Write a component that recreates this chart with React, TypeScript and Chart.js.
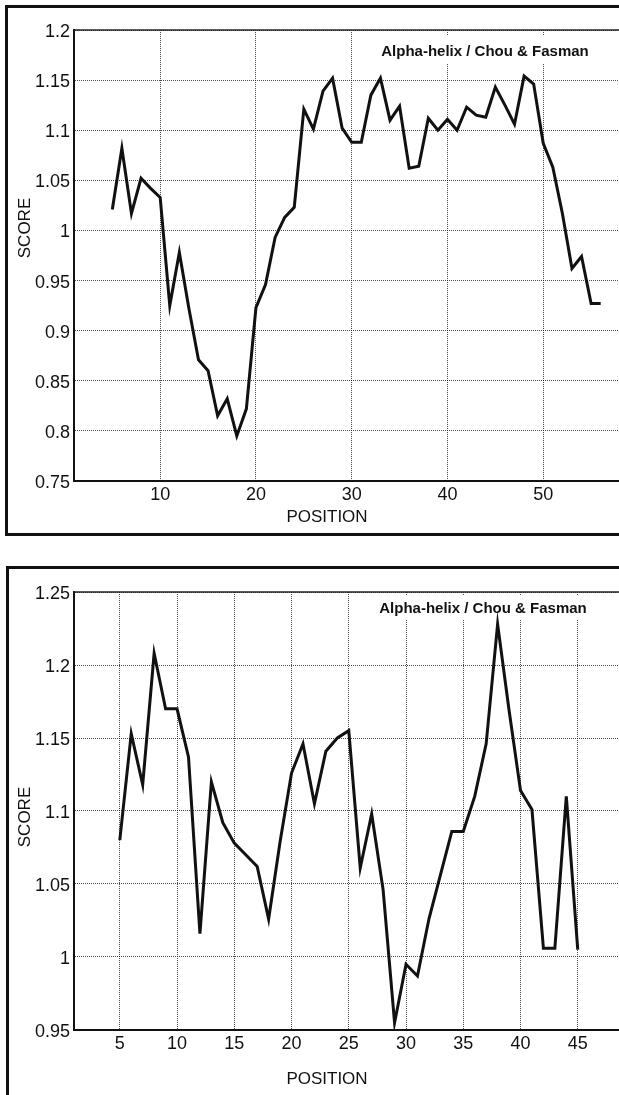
import React, { useEffect, useRef } from 'react';
import { Chart, registerables } from 'chart.js';

Chart.register(...registerables);

// ---------- data ----------
const topPositions = [5, 6, 7, 8, 9, 10, 11, 12, 13, 14, 15, 16, 17, 18, 19, 20, 21, 22, 23, 24, 25, 26, 27, 28, 29, 30, 31, 32, 33, 34, 35, 36, 37, 38, 39, 40, 41, 42, 43, 44, 45, 46, 47, 48, 49, 50, 51, 52, 53, 54, 55, 56];
const topScores = [1.021, 1.082, 1.017, 1.052, 1.042, 1.033, 0.925, 0.978, 0.922, 0.871, 0.860, 0.815, 0.832, 0.795, 0.822, 0.923, 0.946, 0.993, 1.013, 1.023, 1.121, 1.101, 1.139, 1.152, 1.102, 1.088, 1.088, 1.135, 1.152, 1.110, 1.124, 1.062, 1.064, 1.112, 1.100, 1.111, 1.100, 1.123, 1.115, 1.113, 1.143, 1.125, 1.106, 1.154, 1.146, 1.087, 1.063, 1.017, 0.962, 0.974, 0.927, 0.927];
const topXTicks = [10, 20, 30, 40, 50];
const topXTickLabels = ['10', '20', '30', '40', '50'];
const topYTicks = [0.75, 0.8, 0.85, 0.9, 0.95, 1, 1.05, 1.1, 1.15, 1.2];
const topYTickLabels = ['0.75', '0.8', '0.85', '0.9', '0.95', '1', '1.05', '1.1', '1.15', '1.2'];

const bottomPositions = [5, 6, 7, 8, 9, 10, 11, 12, 13, 14, 15, 16, 17, 18, 19, 20, 21, 22, 23, 24, 25, 26, 27, 28, 29, 30, 31, 32, 33, 34, 35, 36, 37, 38, 39, 40, 41, 42, 43, 44, 45];
const bottomScores = [1.080, 1.153, 1.118, 1.208, 1.170, 1.170, 1.137, 1.016, 1.120, 1.092, 1.078, 1.070, 1.062, 1.026, 1.079, 1.126, 1.146, 1.105, 1.141, 1.150, 1.155, 1.061, 1.098, 1.046, 0.955, 0.995, 0.987, 1.026, 1.056, 1.086, 1.086, 1.110, 1.146, 1.228, 1.169, 1.114, 1.101, 1.006, 1.006, 1.110, 1.005];
const bottomXTicks = [5, 10, 15, 20, 25, 30, 35, 40, 45];
const bottomXTickLabels = ['5', '10', '15', '20', '25', '30', '35', '40', '45'];
const bottomYTicks = [0.95, 1, 1.05, 1.1, 1.15, 1.2, 1.25];
const bottomYTickLabels = ['0.95', '1', '1.05', '1.1', '1.15', '1.2', '1.25'];

const chartTitle = 'Alpha-helix / Chou & Fasman';
const xAxisTitle = 'POSITION';
const yAxisTitle = 'SCORE';

// ---------- styling ----------
const FONT = '"Liberation Sans", Arial, sans-serif';
const INK = '#111';

const decorPlugin = {
  id: 'decor',
  beforeDatasetsDraw(chart: any, _args: any, opts: any) {
    const { ctx, chartArea } = chart;
    ctx.save();
    // solid top border of the plot
    ctx.strokeStyle = '#222';
    ctx.lineWidth = 1.5;
    ctx.beginPath();
    ctx.moveTo(chartArea.left, chartArea.top);
    ctx.lineTo(chartArea.right, chartArea.top);
    ctx.stroke();
    // white box behind the title
    ctx.font = 'bold 15px ' + FONT;
    const w = ctx.measureText(chartTitle).width;
    ctx.fillStyle = '#fff';
    ctx.fillRect(opts.titleX - w / 2 - 7, chartArea.top + opts.boxTop, w + 14, opts.boxH);
    ctx.fillStyle = INK;
    ctx.textAlign = 'center';
    ctx.textBaseline = 'alphabetic';
    ctx.fillText(chartTitle, opts.titleX, opts.titleBaseline);
    ctx.restore();
  },
  afterDraw(chart: any, _args: any, opts: any) {
    const { ctx } = chart;
    ctx.save();
    ctx.fillStyle = INK;
    ctx.font = '17px ' + FONT;
    ctx.textAlign = 'center';
    ctx.textBaseline = 'middle';
    ctx.fillText(xAxisTitle, opts.xTitleX, opts.xTitleY);
    ctx.translate(opts.yTitleX, opts.yTitleY);
    ctx.rotate(-Math.PI / 2);
    ctx.fillText(yAxisTitle, 0, 0);
    ctx.restore();
  },
};

type Spec = {
  positions: number[];
  scores: number[];
  xTicks: number[];
  xTickLabels: string[];
  yTicks: number[];
  yTickLabels: string[];
  xMin: number;
  xMax: number;
  yMin: number;
  yMax: number;
  width: number;
  height: number;
  padTop: number;
  padRight: number;
  xAxisHeight: number;
  decor: any;
};

function makeConfig(s: Spec): any {
  return {
    type: 'line',
    data: {
      datasets: [
        {
          data: s.positions.map((p, i) => ({ x: p, y: s.scores[i] })),
          borderColor: INK,
          borderWidth: 3,
          pointRadius: 0,
          tension: 0,
          fill: false,
        },
      ],
    },
    options: {
      responsive: false,
      animation: false,
      devicePixelRatio: 1,
      layout: { padding: { left: 0, top: s.padTop, right: s.padRight, bottom: 0 } },
      plugins: {
        legend: { display: false },
        tooltip: { enabled: false },
        decor: s.decor,
      },
      scales: {
        x: {
          type: 'linear',
          min: s.xMin,
          max: s.xMax,
          afterBuildTicks: (axis: any) => {
            axis.ticks = s.xTicks.map((v) => ({ value: v }));
          },
          afterFit: (axis: any) => {
            axis.height = s.xAxisHeight;
          },
          grid: { color: 'rgba(30,30,30,0.8)', lineWidth: 1, drawTicks: false },
          border: { display: true, color: INK, width: 2, dash: [1, 1] },
          ticks: {
            color: INK,
            font: { family: FONT, size: 18 },
            padding: 3,
            autoSkip: false,
            maxRotation: 0,
            callback: (_v: any, i: number) => s.xTickLabels[i],
          },
        },
        y: {
          type: 'linear',
          min: s.yMin,
          max: s.yMax,
          afterBuildTicks: (axis: any) => {
            axis.ticks = s.yTicks.map((v) => ({ value: v }));
          },
          afterFit: (axis: any) => {
            axis.width = 74;
          },
          grid: { color: 'rgba(30,30,30,0.8)', lineWidth: 1, drawTicks: false },
          border: { display: true, color: INK, width: 2, dash: [1, 1] },
          ticks: {
            color: INK,
            font: { family: FONT, size: 18 },
            padding: 4,
            labelOffset: 2,
            autoSkip: false,
            callback: (_v: any, i: number) => s.yTickLabels[i],
          },
        },
      },
    },
    plugins: [decorPlugin],
  };
}

function ChartCanvas({ spec, top }: { spec: Spec; top: number }) {
  const ref = useRef<HTMLCanvasElement | null>(null);
  useEffect(() => {
    if (!ref.current) return;
    const chart = new Chart(ref.current, makeConfig(spec));
    return () => chart.destroy();
  }, [spec]);
  return (
    <canvas
      ref={ref}
      width={spec.width}
      height={spec.height}
      style={{ position: 'absolute', left: 0, top, width: spec.width, height: spec.height }}
    />
  );
}

const topSpec: Spec = {
  positions: topPositions,
  scores: topScores,
  xTicks: topXTicks,
  xTickLabels: topXTickLabels,
  yTicks: topYTicks,
  yTickLabels: topYTickLabels,
  xMin: 1,
  xMax: 60,
  yMin: 0.75,
  yMax: 1.2,
  width: 700,
  height: 540,
  padTop: 30,
  padRight: 61,
  xAxisHeight: 59,
  decor: { titleX: 485, titleBaseline: 56, boxTop: 6, boxH: 27, xTitleX: 327, xTitleY: 517, yTitleX: 25, yTitleY: 228 },
};

const bottomSpec: Spec = {
  positions: bottomPositions,
  scores: bottomScores,
  xTicks: bottomXTicks,
  xTickLabels: bottomXTickLabels,
  yTicks: bottomYTicks,
  yTickLabels: bottomYTickLabels,
  xMin: 1,
  xMax: 50,
  yMin: 0.95,
  yMax: 1.25,
  width: 700,
  height: 535,
  padTop: 32,
  padRight: 65,
  xAxisHeight: 65,
  decor: { titleX: 483, titleBaseline: 53, boxTop: 3, boxH: 25, xTitleX: 327, xTitleY: 519, yTitleX: 25, yTitleY: 257 },
};

export default function App() {
  return (
    <div
      style={{
        position: 'fixed',
        left: 0,
        top: 0,
        width: 619,
        height: 1095,
        overflow: 'hidden',
        background: '#fff',
      }}
    >
      <div
        style={{
          position: 'absolute',
          left: 5,
          top: 5,
          width: 800,
          height: 531,
          border: '3px solid #111',
          boxSizing: 'border-box',
        }}
      />
      <div
        style={{
          position: 'absolute',
          left: 6,
          top: 566,
          width: 800,
          height: 700,
          border: '3px solid #111',
          boxSizing: 'border-box',
        }}
      />
      <ChartCanvas spec={topSpec} top={0} />
      <ChartCanvas spec={bottomSpec} top={560} />
    </div>
  );
}
